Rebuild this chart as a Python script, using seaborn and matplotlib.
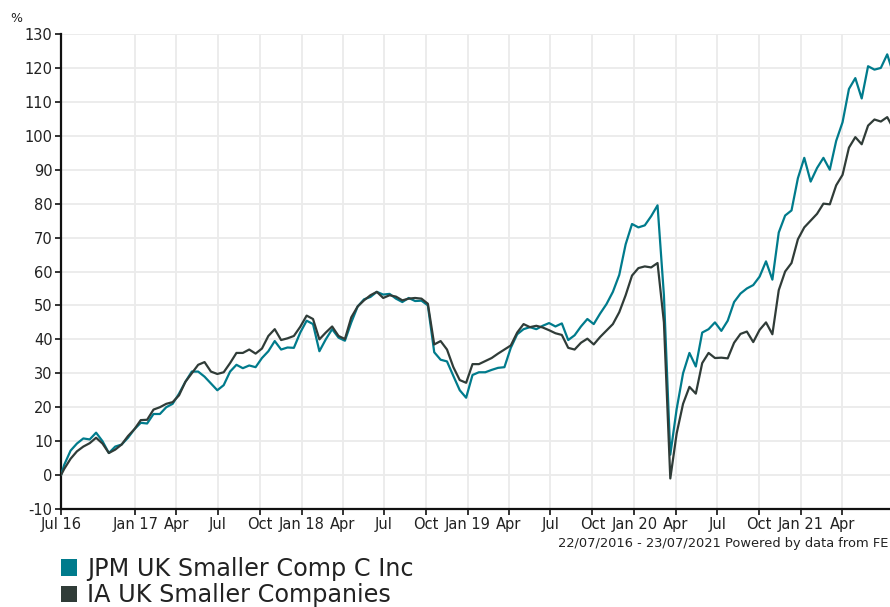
import matplotlib
matplotlib.use("Agg")
import matplotlib.pyplot as plt
import matplotlib.patches as mpatches
import seaborn as sns
import pandas as pd
import numpy as np

# ---------------- data ----------------
start_date = "2016-07-22"
end_date = "2021-07-23"
series_names = ["JPM UK Smaller Comp C Inc", "IA UK Smaller Companies"]
series_colors = ["#007b8c", "#303c38"]

jpm_values = [
    0,
    3, 7.2, 9.3, 10.8, 10.5, 12.5, 10, 6.5, 8.4, 9, 11,
    13.5, 15.4, 15.2, 18, 18, 20, 21, 24, 27.5, 30.5,
    30.5, 29, 27, 25, 26.5, 30.5, 32.5, 31.5, 32.3, 31.8,
    34.5, 36.5, 39.5, 37, 37.6, 37.5, 42, 45.5, 44.5, 36.5,
    40, 43, 40.5, 39.6, 45, 49.7, 51.8, 52.5, 54, 53.2,
    53.4, 52, 51, 52.2, 51.3, 51.4, 50, 36.2, 34, 33.5,
    29.2, 25, 22.8, 29.5, 30.3, 30.3, 31, 31.6, 31.8, 37.5,
    41.5, 43, 43.6, 43, 44, 44.8, 43.8, 44.7, 39.8, 41.2,
    43.8, 46, 44.5, 47.6, 50.4, 54, 59, 68, 74, 73,
    73.6, 76.3, 79.5, 53, 6, 19.5, 30, 36, 32, 42,
    43, 45, 42.5, 45.5, 51, 53.5, 55, 56, 58.5, 63,
    57.6, 71.5, 76.5, 78, 87.5, 93.5, 86.5, 90.5, 93.5, 90,
    98.5, 104, 113.8, 117, 111, 120.5, 119.5, 120, 124, 118,
]

ia_values = [
    0,
    1.8, 4.8, 7, 8.4, 9.4, 11, 9.3, 6.5, 7.5, 9, 11.5,
    13.5, 16.2, 16.3, 19.3, 20, 21, 21.5, 23.5, 27.5, 30,
    32.5, 33.3, 30.5, 29.8, 30.3, 33, 36, 36, 37, 35.8,
    37.3, 41, 43, 39.8, 40.3, 41, 43.7, 47, 46, 40,
    42, 43.8, 41, 40.1, 46.5, 49.7, 51.5, 53, 54, 52.2,
    53, 52.6, 51.5, 52, 52.2, 52, 50.5, 38.5, 39.5, 37,
    31.8, 28, 27.2, 32.7, 32.7, 33.6, 34.5, 35.8, 37, 38.2,
    42, 44.5, 43.6, 44, 43.5, 42.7, 41.8, 41.3, 37.5, 37,
    39, 40.2, 38.5, 40.7, 42.6, 44.5, 48, 53, 58.8, 61,
    61.5, 61.2, 62.5, 45, -1, 12.3, 21, 26, 24, 33,
    36, 34.5, 34.6, 34.4, 39, 41.6, 42.3, 39.2, 42.8, 45,
    41.5, 54.5, 60, 62.5, 69.5, 73, 75, 77, 80, 79.8,
    85.4, 88.5, 96.5, 99.6, 97.5, 103, 104.8, 104.2, 105.5, 102,
]

dates = [pd.Timestamp(start_date)] + list(pd.date_range("2016-07-29", end_date, freq="14D"))
assert len(dates) == len(jpm_values) == len(ia_values)

tick_dates = ["2016-07-22", "2017-01-01", "2017-04-01", "2017-07-01", "2017-10-01",
              "2018-01-01", "2018-04-01", "2018-07-01", "2018-10-01",
              "2019-01-01", "2019-04-01", "2019-07-01", "2019-10-01",
              "2020-01-01", "2020-04-01", "2020-07-01", "2020-10-01",
              "2021-01-01", "2021-04-01"]
tick_labels = ["Jul 16", "Jan 17", "Apr", "Jul", "Oct", "Jan 18", "Apr", "Jul", "Oct",
               "Jan 19", "Apr", "Jul", "Oct", "Jan 20", "Apr", "Jul", "Oct", "Jan 21", "Apr"]
y_ticks = list(range(-10, 131, 10))

footer_text = "22/07/2016 - 23/07/2021 Powered by data from FE"

# ---------------- plot ----------------
sns.set_theme(style="white")
plt.rcParams["font.family"] = ["DejaVu Sans"]

df = pd.DataFrame({
    "date": dates * 2,
    "value": jpm_values + ia_values,
    "series": [series_names[0]] * len(dates) + [series_names[1]] * len(dates),
})

W, H = 890, 607
fig = plt.figure(figsize=(W / 100, H / 100), dpi=100)
ax_left, ax_right, ax_top, ax_bottom = 61, 893.6, 34, 509
ax = fig.add_axes([ax_left / W, 1 - ax_bottom / H, (ax_right - ax_left) / W, (ax_bottom - ax_top) / H])

sns.lineplot(data=df, x="date", y="value", hue="series", hue_order=series_names,
             palette=series_colors, linewidth=1.6, legend=False, ax=ax, zorder=3)
for line, z in zip(ax.get_lines(), [3, 4]):
    line.set_zorder(z)

ax.set_xlim(pd.Timestamp(start_date), pd.Timestamp(end_date))
ax.set_ylim(-10, 130)
ax.set_yticks(y_ticks)
ax.set_yticklabels([str(v) for v in y_ticks], fontsize=10.5, color="#222222")
ax.set_xticks(pd.to_datetime(tick_dates))
ax.set_xticklabels(tick_labels, fontsize=10.5, color="#222222")
ax.set_xlabel("")
ax.set_ylabel("")

ax.grid(True, color="#ebebeb", linewidth=1.3, zorder=0)
ax.set_axisbelow(True)
for s in ["top", "right"]:
    ax.spines[s].set_visible(False)
for s in ["left", "bottom"]:
    ax.spines[s].set_color("#111111")
    ax.spines[s].set_linewidth(1.6)
ax.tick_params(axis="both", direction="out", length=4, width=1.2, color="#111111", pad=2,
               bottom=True, left=True)

fig.text(10 / W, 1 - 18 / H, "%", fontsize=9, color="#222222", ha="left", va="center")
fig.text(888 / W, 1 - 543 / H, footer_text, fontsize=9.4, color="#222222", ha="right", va="center")

handles = [mpatches.Patch(facecolor=c, edgecolor="none") for c in series_colors]
fig.legend(handles, series_names, loc="upper left", bbox_to_anchor=(61 / W, 1 - 557 / H),
           frameon=False, fontsize=17.2, handlelength=0.67, handleheight=0.67,
           handletextpad=0.43, labelspacing=0.1, borderaxespad=0, borderpad=0,
           labelcolor="#222222")

fig.savefig("out.png", dpi=100)
